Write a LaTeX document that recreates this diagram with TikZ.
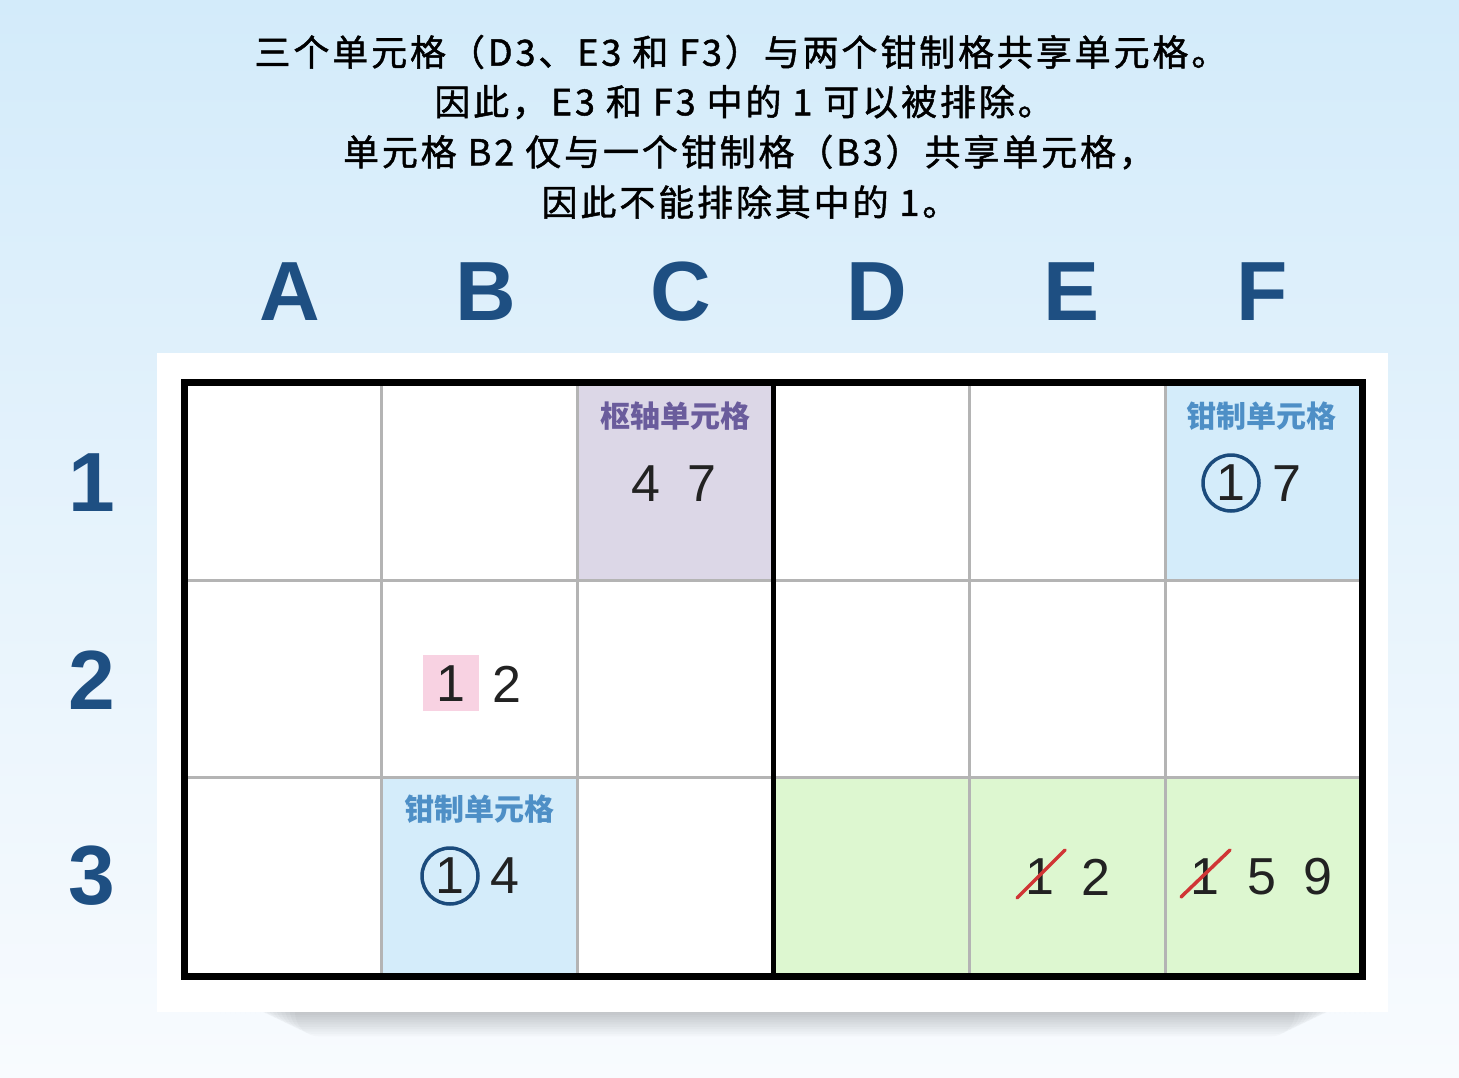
\documentclass[tikz,border=0pt]{standalone}
\usepackage{fontspec}
\setmainfont{Liberation Sans}
\newfontfamily\cjk{Noto Sans CJK SC}
\newfontfamily\cjktitle[FakeBold=1.3,LetterSpace=8]{Noto Sans CJK SC}
\definecolor{bgtop}{HTML}{D3EBFA}
\definecolor{bgmid}{HTML}{E6F3FC}
\definecolor{bgbot}{HTML}{F8FBFE}
\definecolor{hdr}{HTML}{1E4F82}
\definecolor{gridg}{HTML}{B4B4B4}
\definecolor{pivotf}{HTML}{DCD7E7}
\definecolor{pivott}{HTML}{6A5C9C}
\definecolor{pincf}{HTML}{D4ECFA}
\definecolor{pinct}{HTML}{4E8FC6}
\definecolor{greenf}{HTML}{DDF7D0}
\definecolor{pinkf}{HTML}{F8D2E2}
\definecolor{circ}{HTML}{1B4B7C}
\definecolor{strike}{HTML}{D03535}
\definecolor{digit}{HTML}{222222}
\tikzset{
  titletext/.style={font=\cjktitle\fontsize{36}{40}\selectfont, text=black, inner sep=0pt},
  colhead/.style={font=\fontsize{84}{84}\selectfont\bfseries, text=hdr, inner sep=0pt},
  rowhead/.style={font=\fontsize{84}{84}\selectfont\bfseries, text=hdr, inner sep=0pt},
  celllabel/.style={font=\cjk\fontsize{30}{30}\selectfont\bfseries, inner sep=0pt},
  dig/.style={font=\fontsize{52}{52}\selectfont, text=digit, inner sep=0pt},
  circdig/.style={circle, draw=circ, line width=3.5pt, minimum size=56pt, inner sep=0pt, font=\fontsize{52}{52}\selectfont, text=digit},
  gridline/.style={draw=gridg, line width=3pt},
  strikeline/.style={draw=strike, line width=3.5pt, line cap=round},
}
\begin{document}
\begin{tikzpicture}[x=1pt,y=-1pt]
\useasboundingbox (0,0) rectangle (1459,1078);
% background
\shade[top color=bgtop, bottom color=bgbot, middle color=bgmid] (0,0) rectangle (1459,1078);
% soft shadow below the panel
\foreach \i in {1,...,16} {
  \fill[black, opacity=0.018, rounded corners=24pt]
    (215+5*\i,990) rectangle (1375-5*\i,998+2.4*\i);
}
% panel
\fill[white] (157,353) rectangle (1388,1012);
% title
\node[titletext] (t1) at (741,52) {三个单元格（D3、E3 和 F3）与两个钳制格共享单元格。};
\node[titletext] (t2) at (744,102) {因此，E3 和 F3 中的 1 可以被排除。};
\node[titletext] (t3) at (749,152) {单元格 B2 仅与一个钳制格（B3）共享单元格，};
\node[titletext] (t4) at (750,202) {因此不能排除其中的 1。};
% column headers
\node[colhead] (hA) at (290,292) {A};
\node[colhead] (hB) at (486,292) {B};
\node[colhead] (hC) at (681,292) {C};
\node[colhead] (hD) at (877,292) {D};
\node[colhead] (hE) at (1072,292) {E};
\node[colhead] (hF) at (1262,292) {F};
% row headers
\node[rowhead] (r1) at (92,483) {1};
\node[rowhead] (r2) at (92,680) {2};
\node[rowhead] (r3) at (92,876) {3};
% cell fills
\fill[pivotf] (577,381) rectangle (773,580);
\fill[pincf] (1165,381) rectangle (1360,580);
\fill[pincf] (381,777) rectangle (577,975);
\fill[greenf] (773,777) rectangle (1360,975);
% grid lines
\draw[gridline] (381,381) -- (381,975);
\draw[gridline] (577,381) -- (577,975);
\draw[gridline] (969,381) -- (969,975);
\draw[gridline] (1165,381) -- (1165,975);
\draw[gridline] (183,580) -- (1360,580);
\draw[gridline] (183,777) -- (1360,777);
% thick lines
\draw[line width=5pt] (773,381) -- (773,977);
\draw[line width=7pt] (184,382) rectangle (1362,976);
% C1 pivot
\node[celllabel, text=pivott] (lc1) at (675,416) {枢轴单元格};
\node[dig] (c1a) at (646,484) {4};
\node[dig] (c1b) at (702,484) {7};
% F1 pincer
\node[celllabel, text=pinct] (lf1) at (1261,416) {钳制单元格};
\node[circdig] (f1a) at (1231,483) {1};
\node[dig] (f1b) at (1287,484) {7};
% B2
\fill[pinkf] (423,655) rectangle (479,711);
\node[dig] (b2a) at (451,684) {1};
\node[dig] (b2b) at (507,684) {2};
% B3 pincer
\node[celllabel, text=pinct] (lb3) at (479,809) {钳制单元格};
\node[circdig] (b3a) at (450,876) {1};
\node[dig] (b3b) at (505,876) {4};
% E3
\node[dig] (e3a) at (1040,877) {1};
\node[dig] (e3b) at (1096,877) {2};
\draw[strikeline] (1017,898) -- (1065,850);
% F3
\node[dig] (f3a) at (1205,877) {1};
\node[dig] (f3b) at (1262,877) {5};
\node[dig] (f3c) at (1318,877) {9};
\draw[strikeline] (1181,897) -- (1230,850);
\end{tikzpicture}
\end{document}
